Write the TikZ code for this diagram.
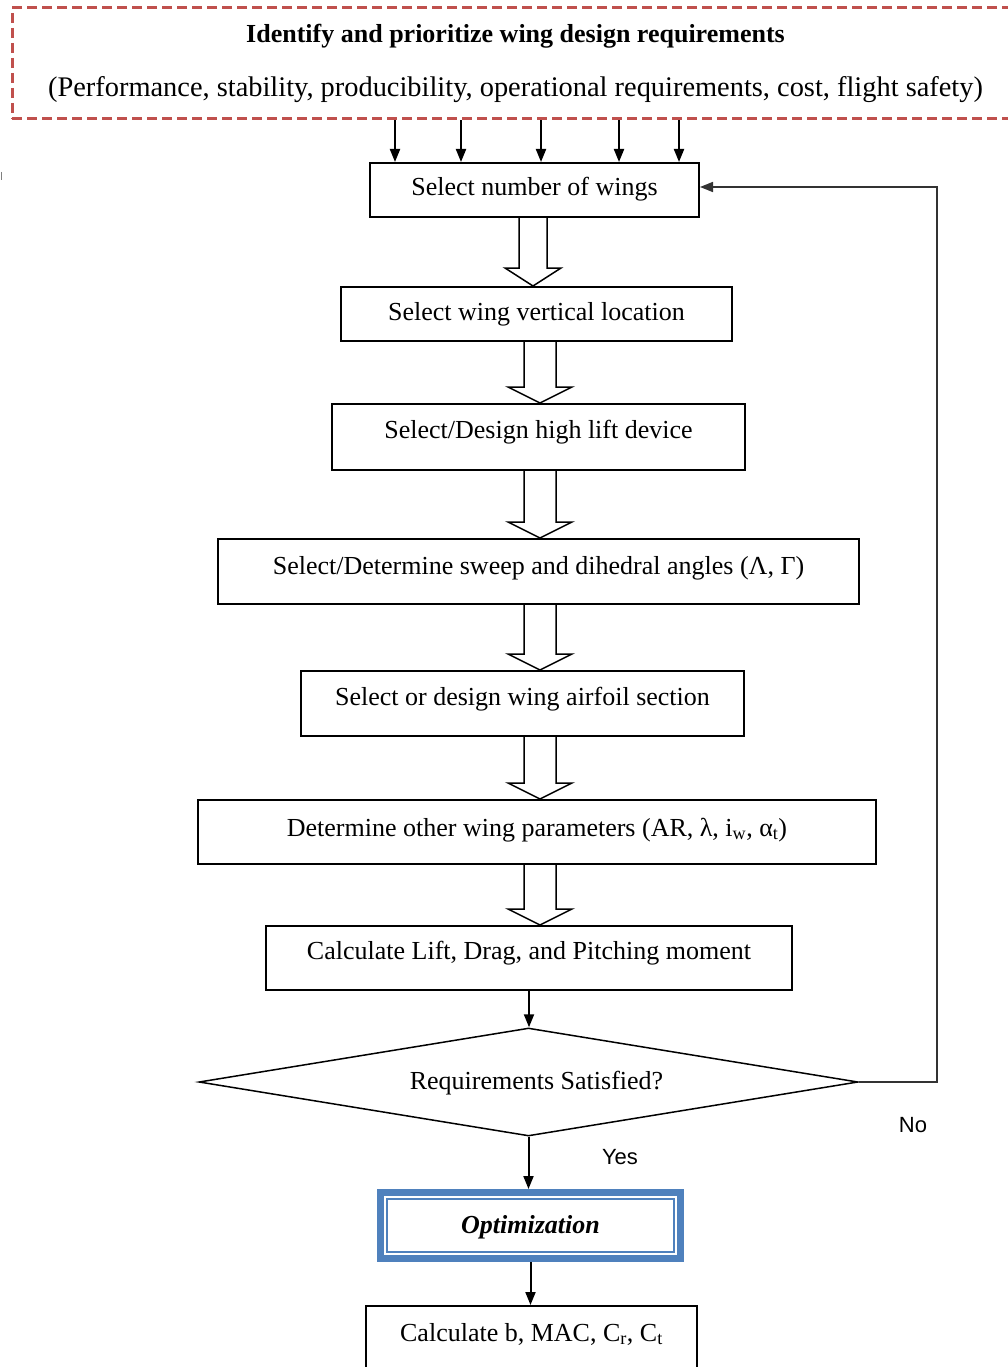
\documentclass[tikz,border=0pt]{standalone}
\usepackage{fontspec}
\setmainfont{Liberation Serif}
\newfontfamily\arialfont{Liberation Sans}
\usetikzlibrary{arrows.meta,shapes.geometric,calc}
\definecolor{reqred}{RGB}{192,80,77}
\definecolor{optblue}{RGB}{79,129,189}
\newcommand\hollowarr[6]{%
  \draw[hollowarrow] ($(#1.south -| #3,0)+(-#4pt,0)$) -- ($(#2.north -| #3,0)+(-#4pt,#6pt)$)
    -- ($(#2.north -| #3,0)+(-#5pt,#6pt)$) -- (#2.north -| #3,0)
    -- ($(#2.north -| #3,0)+(#5pt,#6pt)$) -- ($(#2.north -| #3,0)+(#4pt,#6pt)$)
    -- ($(#1.south -| #3,0)+(#4pt,0)$);}
\begin{document}
\begin{tikzpicture}[x=1pt,y=-1pt,
  txt/.style={font=\fontsize{26}{30}\selectfont},
  procbox/.style={draw, line width=2pt, inner sep=0pt, text height=16pt, txt},
  arr/.style={line width=2pt, -{Triangle[length=13pt,width=10pt]}},
  hollowarrow/.style={line width=1.5pt, line join=miter},
  lbl/.style={font=\arialfont\fontsize{22}{24}\selectfont}
]
\useasboundingbox (0,0) rectangle (1008,1367);
\fill[white] (0,0) rectangle (1008,1367);
\draw[gray, line width=1pt] (1,172) -- (1,180);

\node[draw=reqred, dash pattern=on 10pt off 5pt, line width=3pt, minimum width=1007pt,
      minimum height=111pt, inner sep=0pt, align=center, txt] (req) at (515.5,63.5)
  {\textbf{Identify and prioritize wing design requirements}\\[24pt]
   {\fontsize{28.4}{30}\selectfont (Performance, stability, producibility, operational requirements, cost, flight safety)}};

\node[procbox, minimum width=329pt, minimum height=54pt, text depth=4pt] (b1) at (534.5,190) {Select number of wings};
\node[procbox, minimum width=391pt, minimum height=54pt, text depth=4pt] (b2) at (536.5,314) {Select wing vertical location};
\node[procbox, minimum width=413pt, minimum height=66pt, text depth=14pt] (b3) at (538.5,437) {Select/Design high lift device};
\node[procbox, minimum width=641pt, minimum height=65pt, text depth=11pt] (b4) at (538.5,571.5) {Select/Determine sweep and dihedral angles (Λ, Γ)};
\node[procbox, minimum width=443pt, minimum height=65pt, text depth=13pt] (b5) at (522.5,703.5) {Select or design wing airfoil section};
\node[procbox, minimum width=678pt, minimum height=64pt, text depth=8pt] (b6) at (537,832) {Determine other wing parameters (AR, λ, i\textsubscript{w}, α\textsubscript{t})};
\node[procbox, minimum width=526pt, minimum height=64pt, text depth=14pt] (b7) at (529,958) {Calculate Lift, Drag, and Pitching moment};
\node[draw, diamond, aspect=6, line width=1.5pt, minimum width=659pt, minimum height=108pt, inner sep=0pt, text height=16pt, text depth=2pt, txt] (dia) at (528.5,1082) {\hspace{16pt}Requirements Satisfied?};
\node[draw=optblue, line width=7pt, minimum width=300pt, minimum height=66pt, inner sep=0pt, text height=16pt, text depth=1pt, txt] (opt) at (530.5,1225.5) {\textbf{\textit{Optimization}}};
\draw[optblue, line width=1.5pt] ([shift={(10pt,-10pt)}]opt.north west) rectangle ([shift={(-10pt,10pt)}]opt.south east);
\node[procbox, minimum width=331pt, minimum height=90pt, text depth=36pt] (b8) at (531.5,1351) {Calculate b, MAC, C\textsubscript{r}, C\textsubscript{t}};

\foreach \x in {395,461,541,619,679}
  \draw[arr] (req.south -| \x,0) -- (b1.north -| \x,0);

\hollowarr{b1}{b2}{533}{14}{28}{18}
\hollowarr{b2}{b3}{540}{16}{32}{16}
\hollowarr{b3}{b4}{540}{16}{32}{16}
\hollowarr{b4}{b5}{540}{16}{32}{16}
\hollowarr{b5}{b6}{540}{16}{32}{16}
\hollowarr{b6}{b7}{540}{16}{32}{16}

\draw[arr] (b7.south) -- (b7.south |- dia.north);
\draw[arr] (dia.south) -- (dia.south |- opt.north);
\draw[arr] (opt.south) -- (opt.south |- b8.north);
\draw[line width=1.6pt, draw=black!80, -{Triangle[length=13pt,width=10pt]}] (dia.east) -- ++(78,0) |- ($(b1.east)+(0,3pt)$);

\node[lbl] (no) at (913,1125) {No};
\node[lbl] (yes) at (620,1157) {Yes};
\end{tikzpicture}
\end{document}
